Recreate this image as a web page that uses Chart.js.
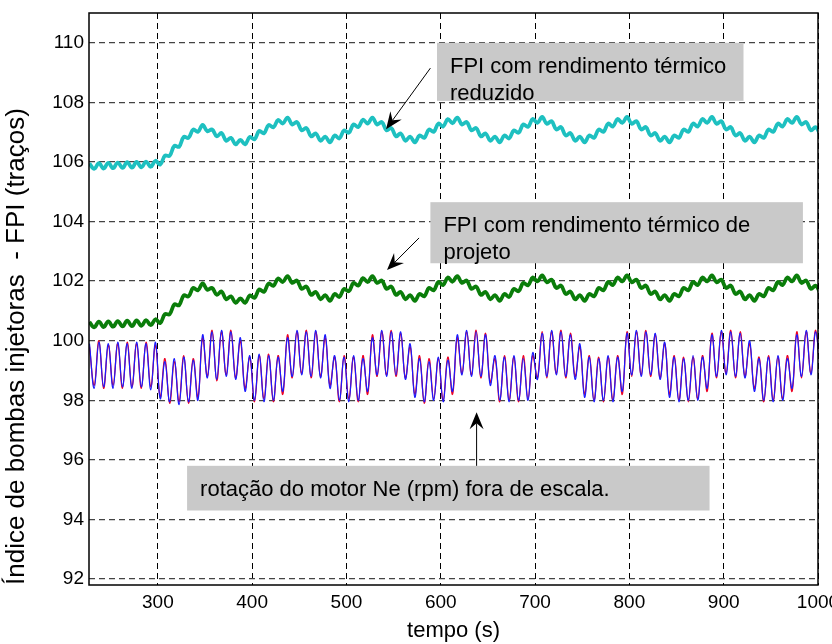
<!DOCTYPE html>
<html lang="pt">
<head>
<meta charset="utf-8">
<title>FPI x tempo</title>
<script src="https://cdn.jsdelivr.net/npm/chart.js@4.4.0/dist/chart.umd.min.js"></script>
<style>
  html, body { margin: 0; padding: 0; background: #fff; overflow: hidden; }
  canvas { display: block; }
</style>
</head>
<body>
<canvas id="grafico" width="832" height="644"></canvas>
<script>
const FONTE = "'Liberation Sans', Arial, sans-serif";

const xTicks = [300, 400, 500, 600, 700, 800, 900, 1000];
const yTicks = [92, 94, 96, 98, 100, 102, 104, 106, 108, 110];

const tempo = [
  227.5, 232.5, 237.5, 242.5, 247.5, 252.5, 257.5, 262.5, 267.5, 272.5,
  277.5, 282.5, 287.5, 292.5, 297.5, 302.5, 307.5, 312.5, 317.5, 322.5,
  327.5, 332.5, 337.5, 342.5, 347.5, 352.5, 357.5, 362.5, 367.5, 372.5,
  377.5, 382.5, 387.5, 392.5, 397.5, 402.5, 407.5, 412.5, 417.5, 422.5,
  427.5, 432.5, 437.5, 442.5, 447.5, 452.5, 457.5, 462.5, 467.5, 472.5,
  477.5, 482.5, 487.5, 492.5, 497.5, 502.5, 507.5, 512.5, 517.5, 522.5,
  527.5, 532.5, 537.5, 542.5, 547.5, 552.5, 557.5, 562.5, 567.5, 572.5,
  577.5, 582.5, 587.5, 592.5, 597.5, 602.5, 607.5, 612.5, 617.5, 622.5,
  627.5, 632.5, 637.5, 642.5, 647.5, 652.5, 657.5, 662.5, 667.5, 672.5,
  677.5, 682.5, 687.5, 692.5, 697.5, 702.5, 707.5, 712.5, 717.5, 722.5,
  727.5, 732.5, 737.5, 742.5, 747.5, 752.5, 757.5, 762.5, 767.5, 772.5,
  777.5, 782.5, 787.5, 792.5, 797.5, 802.5, 807.5, 812.5, 817.5, 822.5,
  827.5, 832.5, 837.5, 842.5, 847.5, 852.5, 857.5, 862.5, 867.5, 872.5,
  877.5, 882.5, 887.5, 892.5, 897.5, 902.5, 907.5, 912.5, 917.5, 922.5,
  927.5, 932.5, 937.5, 942.5, 947.5, 952.5, 957.5, 962.5, 967.5, 972.5,
  977.5, 982.5, 987.5, 992.5, 997.5, 1002.5
];

// FPI com rendimento termico reduzido (ciano)
const fpiReduzido = [
  105.95, 105.77, 105.96, 105.78, 105.97, 105.79, 105.98, 105.80, 105.99, 105.81,
  106.00, 105.82, 106.01, 105.84, 106.04, 105.91, 106.21, 106.21, 106.54, 106.51,
  106.84, 106.81, 107.09, 107.01, 107.24, 107.03, 107.09, 106.86, 106.97, 106.71,
  106.81, 106.59, 106.74, 106.59, 106.84, 106.76, 107.04, 106.96, 107.24, 107.16,
  107.41, 107.29, 107.49, 107.26, 107.34, 107.06, 107.14, 106.86, 106.96, 106.71,
  106.85, 106.66, 106.89, 106.79, 107.06, 106.98, 107.26, 107.17, 107.42, 107.29,
  107.49, 107.26, 107.34, 107.06, 107.14, 106.86, 106.96, 106.71, 106.85, 106.66,
  106.89, 106.81, 107.09, 107.01, 107.29, 107.19, 107.44, 107.30, 107.49, 107.26,
  107.34, 107.06, 107.14, 106.86, 106.96, 106.71, 106.85, 106.66, 106.89, 106.79,
  107.06, 106.98, 107.26, 107.18, 107.44, 107.31, 107.51, 107.28, 107.37, 107.09,
  107.17, 106.89, 106.97, 106.71, 106.85, 106.66, 106.89, 106.81, 107.09, 107.01,
  107.29, 107.19, 107.44, 107.31, 107.51, 107.28, 107.37, 107.09, 107.17, 106.89,
  106.97, 106.71, 106.85, 106.66, 106.89, 106.81, 107.09, 107.01, 107.29, 107.19,
  107.44, 107.31, 107.51, 107.28, 107.37, 107.09, 107.17, 106.89, 106.97, 106.71,
  106.85, 106.66, 106.89, 106.81, 107.09, 107.01, 107.29, 107.19, 107.44, 107.31,
  107.51, 107.26, 107.34, 107.06, 107.17, 106.91
];

// FPI com rendimento termico de projeto (verde)
const fpiProjeto = [
  100.63, 100.45, 100.64, 100.46, 100.65, 100.47, 100.66, 100.48, 100.67, 100.49,
  100.68, 100.50, 100.69, 100.52, 100.72, 100.59, 100.89, 100.89, 101.22, 101.19,
  101.52, 101.49, 101.77, 101.69, 101.92, 101.71, 101.77, 101.54, 101.65, 101.39,
  101.49, 101.27, 101.42, 101.27, 101.52, 101.44, 101.72, 101.64, 101.92, 101.84,
  102.09, 101.97, 102.17, 101.94, 102.02, 101.74, 101.82, 101.54, 101.64, 101.39,
  101.53, 101.34, 101.57, 101.47, 101.74, 101.66, 101.94, 101.85, 102.10, 101.97,
  102.17, 101.94, 102.02, 101.74, 101.82, 101.54, 101.64, 101.39, 101.53, 101.34,
  101.57, 101.49, 101.77, 101.69, 101.97, 101.87, 102.12, 101.98, 102.17, 101.94,
  102.02, 101.74, 101.82, 101.54, 101.64, 101.39, 101.53, 101.34, 101.57, 101.47,
  101.74, 101.66, 101.94, 101.86, 102.12, 101.99, 102.19, 101.96, 102.05, 101.77,
  101.85, 101.57, 101.65, 101.39, 101.53, 101.34, 101.57, 101.49, 101.77, 101.69,
  101.97, 101.87, 102.12, 101.99, 102.19, 101.96, 102.05, 101.77, 101.85, 101.57,
  101.65, 101.39, 101.53, 101.34, 101.57, 101.49, 101.77, 101.69, 101.97, 101.87,
  102.12, 101.99, 102.19, 101.96, 102.05, 101.77, 101.85, 101.57, 101.65, 101.39,
  101.53, 101.34, 101.57, 101.49, 101.77, 101.69, 101.97, 101.87, 102.12, 101.99,
  102.19, 101.94, 102.02, 101.74, 101.85, 101.59
];

// rotacao do motor (fora de escala), duas curvas
const rotacaoAzul = [
  99.9, 98.4, 99.95, 98.45, 99.9, 98.4, 99.95, 98.45, 99.9, 98.4,
  99.95, 98.45, 99.9, 98.35, 99.95, 98.05, 99.3, 97.95, 99.4, 97.85,
  99.45, 97.95, 99.35, 98.0, 100.2, 98.75, 100.3, 98.7, 100.35, 98.8,
  100.3, 98.7, 100.1, 98.3, 99.5, 98.0, 99.55, 97.95, 99.5, 98.0,
  99.45, 98.3, 100.1, 98.8, 100.35, 98.85, 100.3, 98.8, 100.35, 98.75,
  100.2, 98.4, 99.5, 98.0, 99.45, 97.95, 99.5, 98.0, 99.4, 98.3,
  100.1, 98.85, 100.35, 98.8, 100.3, 98.85, 100.3, 98.7, 99.9, 98.1,
  99.4, 97.95, 99.3, 98.0, 99.45, 97.95, 99.35, 98.3, 100.2, 98.85,
  100.35, 98.8, 100.3, 98.8, 100.2, 98.5, 99.5, 98.0, 99.45, 97.95,
  99.5, 98.0, 99.4, 98.0, 99.6, 98.7, 100.25, 98.8, 100.35, 98.85,
  100.3, 98.8, 100.2, 98.7, 99.9, 98.1, 99.45, 97.95, 99.4, 98.0,
  99.5, 97.95, 99.45, 98.3, 100.25, 98.85, 100.35, 98.8, 100.3, 98.85,
  100.25, 98.7, 99.95, 98.1, 99.45, 97.95, 99.4, 98.0, 99.5, 98.0,
  99.45, 98.4, 100.2, 98.8, 100.35, 98.85, 100.3, 98.8, 100.25, 98.75,
  100.0, 98.3, 99.4, 98.0, 99.45, 97.95, 99.5, 98.0, 99.4, 98.4,
  100.2, 98.8, 100.35, 98.85, 100.3, 98.8
];

const rotacaoVermelha = [
  99.8, 98.5, 100.0, 98.4, 99.85, 98.5, 99.9, 98.4, 99.95, 98.45,
  99.9, 98.4, 99.95, 98.45, 99.85, 98.1, 99.4, 97.9, 99.3, 97.95,
  99.5, 97.9, 99.4, 98.1, 100.1, 98.8, 100.35, 98.65, 100.3, 98.85,
  100.35, 98.75, 100.0, 98.4, 99.45, 97.95, 99.5, 98.05, 99.55, 97.95,
  99.5, 98.2, 100.2, 98.75, 100.3, 98.9, 100.35, 98.75, 100.3, 98.8,
  100.1, 98.5, 99.45, 97.95, 99.5, 98.05, 99.45, 97.95, 99.5, 98.2,
  100.2, 98.8, 100.3, 98.85, 100.35, 98.8, 100.25, 98.75, 99.8, 98.2,
  99.5, 97.9, 99.4, 98.05, 99.4, 98.0, 99.45, 98.2, 100.1, 98.9,
  100.3, 98.85, 100.35, 98.75, 100.25, 98.6, 99.4, 97.95, 99.5, 98.0,
  99.45, 97.95, 99.5, 98.05, 99.5, 98.75, 100.3, 98.75, 100.3, 98.9,
  100.35, 98.75, 100.25, 98.8, 99.8, 98.2, 99.5, 98.0, 99.45, 97.95,
  99.45, 98.0, 99.5, 98.2, 100.3, 98.8, 100.3, 98.85, 100.35, 98.8,
  100.2, 98.75, 99.9, 98.2, 99.5, 98.0, 99.45, 97.95, 99.45, 98.05,
  99.5, 98.3, 100.25, 98.75, 100.3, 98.9, 100.35, 98.75, 100.3, 98.8,
  99.9, 98.4, 99.45, 97.95, 99.5, 98.0, 99.45, 98.05, 99.5, 98.3,
  100.3, 98.75, 100.3, 98.9, 100.35, 98.75
];

// caixas de texto e setas, em unidades dos eixos
const caixas = [
  { t0: 596, t1: 921, v0: 110.0, v1: 108.05, linhas: ["FPI com rendimento térmico", "reduzido"] },
  { t0: 589, t1: 984, v0: 104.65, v1: 102.6, linhas: ["FPI com rendimento térmico de", "projeto"] },
  { t0: 331, t1: 885, v0: 95.8, v1: 94.3, linhas: ["rotação do motor Ne (rpm) fora de escala."] }
];
const setas = [
  { t0: 589, v0: 109.15, t1: 542, v1: 107.1 },
  { t0: 577, v0: 103.45, t1: 543, v1: 102.37 },
  { t0: 638, v0: 95.8, t1: 638, v1: 97.6 }
];

const pontos = vals => tempo.map((t, i) => ({ x: t, y: vals[i] }));

function seta(ctx, x0, y0, x1, y1) {
  const ang = Math.atan2(y1 - y0, x1 - x0);
  const comp = 17, larg = 7, recuo = 11;
  const c = Math.cos(ang), s = Math.sin(ang);
  ctx.beginPath();
  ctx.moveTo(x0, y0);
  ctx.lineTo(x1 - c * recuo, y1 - s * recuo);
  ctx.stroke();
  ctx.beginPath();
  ctx.moveTo(x1, y1);
  ctx.lineTo(x1 - c * comp - s * larg, y1 - s * comp + c * larg);
  ctx.lineTo(x1 - c * recuo, y1 - s * recuo);
  ctx.lineTo(x1 - c * comp + s * larg, y1 - s * comp - c * larg);
  ctx.closePath();
  ctx.fill();
}

const anotacoes = {
  id: "anotacoes",
  afterDatasetsDraw(chart) {
    const { ctx, scales: { x, y } } = chart;
    ctx.save();
    caixas.forEach(c => {
      const x0 = x.getPixelForValue(c.t0), x1 = x.getPixelForValue(c.t1);
      const y0 = y.getPixelForValue(c.v0), y1 = y.getPixelForValue(c.v1);
      ctx.fillStyle = "#c9c9c9";
      ctx.fillRect(x0, y0, x1 - x0, y1 - y0);
      ctx.fillStyle = "#000";
      ctx.font = `22px ${FONTE}`;
      ctx.textBaseline = "middle";
      c.linhas.forEach((l, i) => ctx.fillText(l, x0 + 13, y0 + 24 + i * 27));
    });
    ctx.strokeStyle = "#000";
    ctx.fillStyle = "#000";
    ctx.lineWidth = 1;
    setas.forEach(a => seta(ctx,
      x.getPixelForValue(a.t0), y.getPixelForValue(a.v0),
      x.getPixelForValue(a.t1), y.getPixelForValue(a.v1)));
    ctx.restore();
  },
  afterDraw(chart) {
    const { ctx, chartArea: a } = chart;
    ctx.save();
    ctx.strokeStyle = "#000";
    ctx.lineWidth = 1.5;
    ctx.strokeRect(a.left, a.top, a.right - a.left, a.bottom - a.top);
    ctx.restore();
  }
};

const linha = (vals, cor, larg) => ({
  data: pontos(vals),
  borderColor: cor,
  borderWidth: larg,
  pointRadius: 0,
  tension: 0.4,
  fill: false
});

new Chart(document.getElementById("grafico"), {
  type: "line",
  data: {
    datasets: [
      linha(rotacaoAzul, "#1a1aff", 1.2),
      linha(rotacaoVermelha, "#ee0022", 1.3),
      linha(fpiProjeto, "#0a7d0a", 3.8),
      linha(fpiReduzido, "#1ec0c0", 3.8)
    ]
  },
  options: {
    responsive: false,
    animation: false,
    devicePixelRatio: 1,
    layout: { padding: { top: 13, right: 14, left: 0, bottom: 0 } },
    plugins: { legend: { display: false }, tooltip: { enabled: false } },
    scales: {
      x: {
        type: "linear",
        min: 227,
        max: 1000,
        afterBuildTicks: s => { s.ticks = xTicks.map(v => ({ value: v })); },
        afterFit: s => { s.height = 59; s.paddingLeft = 0; s.paddingRight = 0; },
        grid: { color: "#000", lineWidth: 1, drawTicks: false },
        border: { display: false, dash: [6, 4] },
        ticks: { color: "#000", font: { family: FONTE, size: 19 }, padding: 6, maxRotation: 0, autoSkip: false, callback: v => String(v) },
        title: { display: true, text: "tempo (s)", color: "#000", font: { family: FONTE, size: 22 }, padding: { top: 0, bottom: 0 } }
      },
      y: {
        min: 91.8,
        max: 111,
        afterBuildTicks: s => { s.ticks = yTicks.map(v => ({ value: v })); },
        afterFit: s => { s.width = 89; s.paddingTop = 0; s.paddingBottom = 0; },
        grid: { color: "#444", lineWidth: 1.3, drawTicks: false },
        border: { display: false, dash: [6, 4] },
        ticks: { color: "#000", font: { family: FONTE, size: 19 }, padding: 5, autoSkip: false, callback: v => String(v) },
        title: { display: true, align: "start", text: "Índice de bombas injetoras  - FPI (traços)", color: "#000", font: { family: FONTE, size: 26 }, padding: { top: 1, bottom: 0 } }
      }
    }
  },
  plugins: [anotacoes]
});
</script>
</body>
</html>
